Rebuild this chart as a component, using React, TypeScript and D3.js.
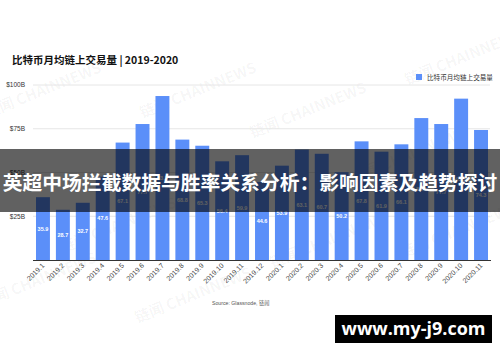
import React from 'react';
import * as d3 from 'd3';

const months = [
  '2019.1', '2019.2', '2019.3', '2019.4', '2019.5', '2019.6', '2019.7', '2019.8',
  '2019.9', '2019.10', '2019.11', '2019.12', '2020.1', '2020.2', '2020.3', '2020.4',
  '2020.5', '2020.6', '2020.7', '2020.8', '2020.9', '2020.10', '2020.11',
];
// 比特币月均链上交易量 (十亿美元)
const volumes = [
  35.9, 28.7, 32.7, 47.6, 67.1, 77.7, 93.7, 68.8, 65.3, 56.4, 59.9, 44.6,
  53.9, 63.1, 60.7, 50.2, 67.8, 61.9, 66.1, 81.1, 77.7, 92.2, 74.3,
];
const yTicks = [0, 25, 50, 75, 100];
const yTickLabels = ['', '$25B', '$50B', '$75B', '$100B'];

const chartTitle = '比特币月均链上交易量 | 2019-2020';
const legendLabel = '比特币月均链上交易量';
const sourceText = 'Source: Glassnode, 链闻';
const bannerText = '英超中场拦截数据与胜率关系分析：影响因素及趋势探讨';
const siteText = 'www.my-j9.com';

const watermarks: [number, number][] = [
  [45, 95], [200, 95], [310, 115], [465, 62], [40, 285], [195, 300],
  [330, 245], [460, 235], [120, 230], [410, 160],
];

const W = 500;
const H = 362;
const BAR = '#5b8ff9';

const App: React.FC = () => {
  const x = d3.scaleBand<string>().domain(months).range([33, 491]).paddingInner(0.3).paddingOuter(0.15);
  const y = d3.scaleLinear().domain([0, 100]).range([260, 85]);

  return (
    <svg width={W} height={H} style={{ position: 'absolute', left: 0, top: 0, background: '#fff' }}
      fontFamily="'Liberation Sans', 'Noto Sans CJK SC', sans-serif">
      <rect width={W} height={H} fill="#fff" />

      {/* watermarks */}
      {watermarks.map(([wx, wy], i) => (
        <text key={'wm' + i} x={wx} y={wy} transform={`rotate(-22 ${wx} ${wy})`} textAnchor="middle"
          fontSize={15} fontWeight={700} fill="#000" fillOpacity={0.045}
          fontFamily="'Noto Sans CJK SC', sans-serif">链闻 CHAINNEWS</text>
      ))}

      <text x={12} y={64} fontSize={10.5} fontWeight={700} fill="#111"
        fontFamily="'Noto Sans CJK SC', sans-serif">{chartTitle}</text>

      {/* legend */}
      <rect x={416} y={74} width={6} height={6} fill={BAR} />
      <text x={427} y={79.5} fontSize={6.6} fill="#333" fontFamily="'Noto Sans CJK SC', sans-serif">{legendLabel}</text>

      {/* grid + y axis */}
      {yTicks.map((t, i) => (
        <g key={'t' + t}>
          {t > 0 && <line x1={33} x2={490} y1={y(t)} y2={y(t)} stroke="#e6e6e6" strokeWidth={1} />}
          <text x={25} y={y(t)} dy="0.35em" textAnchor="end" fontSize={6.5} fill="#333">{yTickLabels[i]}</text>
        </g>
      ))}

      {/* bars */}
      {volumes.map((v, i) => (
        <rect key={'b' + i} x={x(months[i])} y={y(v)} width={x.bandwidth()} height={y(0) - y(v)} fill={BAR} />
      ))}
      {volumes.map((v, i) => (
        <text key={'l' + i} x={(x(months[i]) as number) + x.bandwidth() / 2} y={(y(v) + y(0)) / 2} dy="0.35em"
          textAnchor="middle" fontSize={5.5} fontWeight={700} fill="#fff">{v.toFixed(1)}</text>
      ))}

      <line x1={33} x2={491} y1={y(0) + 0.5} y2={y(0) + 0.5} stroke="#333" strokeWidth={1} />

      {/* x axis labels */}
      {months.map((m) => {
        const cx = (x(m) as number) + x.bandwidth() / 2 + 2;
        const cy = 266;
        return (
          <text key={'x' + m} x={cx} y={cy} transform={`rotate(-45 ${cx} ${cy})`} textAnchor="end"
            fontSize={7} fill="#444">{m}</text>
        );
      })}

      <text x={212} y={305} fontSize={5.2} fill="#555">{sourceText}</text>

      {/* overlay banner */}
      <rect x={0} y={149} width={W} height={63} fill="#000" fillOpacity={0.62} />
      <text x={W / 2} y={183} dy="0.35em" textAnchor="middle" fontSize={19.8} fontWeight={700} fill="#fff"
        fontFamily="'Noto Sans CJK SC', sans-serif">{bannerText}</text>

      <rect x={335} y={315} width={157} height={28} fill="#000" />
      <text x={413.5} y={329} dy="0.35em" textAnchor="middle" fontSize={18} fontWeight={700} fill="#fff"
        fontFamily="'Open Sans', sans-serif">{siteText}</text>
    </svg>
  );
};

export default App;
